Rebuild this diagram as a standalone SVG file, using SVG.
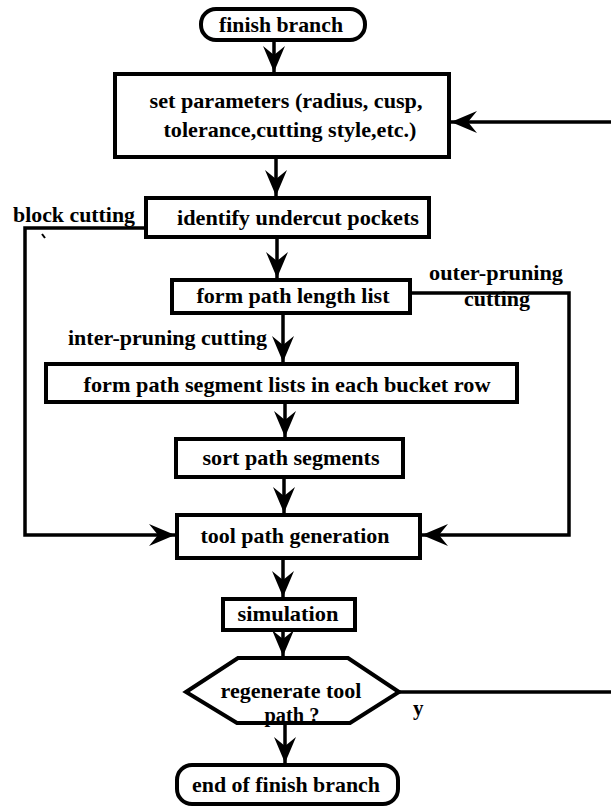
<svg xmlns="http://www.w3.org/2000/svg" width="611" height="806" viewBox="0 0 611 806">
  <style>
    .box { fill: #fff; stroke: #000; stroke-width: 4; }
    .edge { fill: none; stroke: #000; stroke-width: 3.5; }
    text { font-family: "Liberation Serif", "Times New Roman", serif; font-weight: bold; font-size: 21px; fill: #000; }
    .c { text-anchor: middle; }
  </style>
  <defs>
    <marker id="arrow" viewBox="-27 -12 29 24" markerWidth="29" markerHeight="24" refX="0" refY="0" orient="auto" markerUnits="userSpaceOnUse">
      <path d="M0,0 L-26,-11 L-17,0 L-26,11 Z" fill="#000"/>
    </marker>
  </defs>
  <rect width="611" height="806" fill="#fff"/>

  <g id="connectors">
    <path class="edge" d="M274,40 V72" marker-end="url(#arrow)"/>
    <path class="edge" d="M276,157 V196" marker-end="url(#arrow)"/>
    <path class="edge" d="M277,237 V278" marker-end="url(#arrow)"/>
    <path class="edge" d="M283,313 V362" marker-end="url(#arrow)"/>
    <path class="edge" d="M285,402 V437" marker-end="url(#arrow)"/>
    <path class="edge" d="M284,477 V513" marker-end="url(#arrow)"/>
    <path class="edge" d="M283,558 V597" marker-end="url(#arrow)"/>
    <path class="edge" d="M283,630 V656" marker-end="url(#arrow)"/>
    <path class="edge" d="M285,723 V763" marker-end="url(#arrow)"/>
    <path class="edge" d="M146,228 H25 V535 H175" marker-end="url(#arrow)"/>
    <path class="edge" d="M410,293 H569 V535 H422" marker-end="url(#arrow)"/>
    <path class="edge" d="M399,692 H611"/>
    <path class="edge" d="M611,122 H451" marker-end="url(#arrow)"/>
    <path d="M42,234 L45,238" stroke="#000" stroke-width="2"/>
  </g>

  <g id="finish-branch">
    <rect class="box" x="201" y="9" width="164" height="31" rx="15"/>
    <text class="c" x="281" y="32" textLength="124" lengthAdjust="spacingAndGlyphs">finish branch</text>
  </g>

  <g id="set-parameters">
    <rect class="box" x="115" y="74" width="334" height="83"/>
    <text class="c" x="286" y="108" textLength="273" lengthAdjust="spacingAndGlyphs">set parameters (radius, cusp,</text>
    <text class="c" x="290" y="137" textLength="253" lengthAdjust="spacingAndGlyphs">tolerance,cutting style,etc.)</text>
  </g>

  <g id="identify-undercut">
    <rect class="box" x="146" y="198" width="283" height="39"/>
    <text class="c" x="298" y="225" textLength="242" lengthAdjust="spacingAndGlyphs">identify undercut pockets</text>
  </g>

  <g id="form-length-list">
    <rect class="box" x="172" y="280" width="238" height="33"/>
    <text class="c" x="293" y="303" textLength="193" lengthAdjust="spacingAndGlyphs">form path length list</text>
  </g>

  <g id="form-segment-lists">
    <rect class="box" x="46" y="364" width="471" height="38"/>
    <text class="c" x="287" y="392" textLength="407" lengthAdjust="spacingAndGlyphs">form path segment  lists in each bucket row</text>
  </g>

  <g id="sort-segments">
    <rect class="box" x="176" y="439" width="227" height="38"/>
    <text class="c" x="291" y="465" textLength="177" lengthAdjust="spacingAndGlyphs">sort path segments</text>
  </g>

  <g id="tool-path-generation">
    <rect class="box" x="177" y="515" width="243" height="43"/>
    <text class="c" x="295" y="543" textLength="189" lengthAdjust="spacingAndGlyphs">tool path generation</text>
  </g>

  <g id="simulation">
    <rect class="box" x="223" y="599" width="132" height="31"/>
    <text class="c" x="288" y="621" textLength="101" lengthAdjust="spacingAndGlyphs">simulation</text>
  </g>

  <g id="regenerate-decision">
    <polygon class="box" points="186,692 238,658 348,658 399,692 350,723 237,723"/>
    <text class="c" x="291" y="698" textLength="141" lengthAdjust="spacingAndGlyphs">regenerate tool</text>
    <text class="c" x="292" y="722" textLength="55" lengthAdjust="spacingAndGlyphs">path ?</text>
  </g>

  <g id="end-finish-branch">
    <rect class="box" x="177" y="765" width="221" height="39" rx="15"/>
    <text class="c" x="286" y="792" textLength="188" lengthAdjust="spacingAndGlyphs">end of finish branch</text>
  </g>

  <g id="edge-labels">
    <text x="13" y="222" textLength="122" lengthAdjust="spacingAndGlyphs">block cutting</text>
    <text class="c" x="496" y="280" textLength="134" lengthAdjust="spacingAndGlyphs">outer-pruning</text>
    <text class="c" x="497" y="306" textLength="66" lengthAdjust="spacingAndGlyphs">cutting</text>
    <text x="68" y="345" textLength="199" lengthAdjust="spacingAndGlyphs">inter-pruning cutting</text>
    <text x="413" y="715">y</text>
  </g>
</svg>
